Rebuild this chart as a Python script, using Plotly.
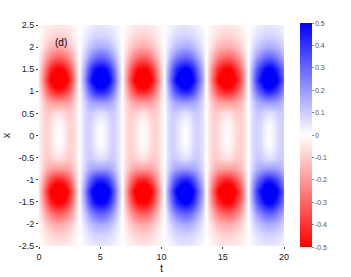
import numpy as np
import plotly.graph_objects as go

# |x| levels (profile is mirrored about x = 0)
x_levels = [0.0, 0.25, 0.5, 0.75, 1.0, 1.25, 1.5, 1.75, 2.0, 2.25, 2.5]
# phase within one column (0 = white gap, 0.5 = column centre), mirrored about 0.5
phase = [0.0, 0.1, 0.2, 0.3, 0.4, 0.5]
# magnitude, rows = x_levels, cols = phase
column_pattern = [
    [0.0, 0.067, 0.092, 0.067, 0.022, 0.000],
    [0.0, 0.064, 0.090, 0.070, 0.030, 0.010],
    [0.0, 0.067, 0.102, 0.095, 0.069, 0.055],
    [0.0, 0.084, 0.148, 0.184, 0.197, 0.200],
    [0.0, 0.139, 0.265, 0.364, 0.428, 0.450],
    [0.0, 0.192, 0.365, 0.502, 0.590, 0.620],
    [0.0, 0.161, 0.306, 0.421, 0.495, 0.520],
    [0.0, 0.099, 0.188, 0.259, 0.304, 0.320],
    [0.0, 0.053, 0.100, 0.138, 0.162, 0.170],
    [0.0, 0.028, 0.053, 0.073, 0.086, 0.090],
    [0.0, 0.015, 0.029, 0.040, 0.048, 0.050],
]
# white gaps between columns (t) and sign of each column (red = negative)
gaps = [-0.14, 3.30, 6.74, 10.18, 13.62, 17.06, 20.50]
column_sign = [-1, 1, -1, 1, -1, 1]

cb_ticks = [0.5, 0.4, 0.3, 0.2, 0.1, 0, -0.1, -0.2, -0.3, -0.4, -0.5]
cb_labels = ["0.5", "0.4", "0.3", "0.2", "0.1", "0", "-0.1", "-0.2", "-0.3", "-0.4", "-0.5"]
x_ticks = [-2.5, -2, -1.5, -1, -0.5, 0, 0.5, 1, 1.5, 2, 2.5]
x_ticklabels = ["-2.5", "-2", "-1.5", "-1", "-0.5", "0", "0.5", "1", "1.5", "2", "2.5"]
t_ticks = [0, 5, 10, 15, 20]

# assemble grid
pat = np.array(column_pattern)
full_pat = np.hstack([pat, pat[:, -2::-1]])          # phase 0..1
full_phase = phase + [1 - p for p in phase[-2::-1]]
full_pat = np.vstack([full_pat[:0:-1], full_pat])     # x from -2.5 to 2.5
xs = [-v for v in x_levels[:0:-1]] + x_levels

ts, cols = [], []
for k, s in enumerate(column_sign):
    a, b = gaps[k], gaps[k + 1]
    for j, p in enumerate(full_phase):
        if k > 0 and j == 0:
            continue
        ts.append(a + p * (b - a))
        cols.append(s * full_pat[:, j])
z = np.array(cols).T

font = "Liberation Sans, Arial, sans-serif"
fig = go.Figure(go.Heatmap(
    x=ts, y=xs, z=z, zmin=-0.5, zmax=0.5, zsmooth="best",
    colorscale=[[0, "rgb(255,0,0)"], [0.5, "rgb(255,255,255)"], [1, "rgb(0,0,255)"]],
    colorbar=dict(
        x=1.065, xanchor="left", y=0.502, yanchor="middle",
        thickness=12, lenmode="pixels", len=224, outlinewidth=0,
        xpad=0, ypad=0,
        tickvals=cb_ticks, ticktext=cb_labels, ticks="outside", ticklen=2,
        tickcolor="#888", tickfont=dict(size=7, color="#555", family=font),
    ),
))
fig.add_annotation(x=1.8, y=2.1, text="(d)", showarrow=False,
                   font=dict(size=10, color="black", family=font))
fig.update_layout(
    width=351, height=277,
    margin=dict(l=39, r=67, t=25, b=31, autoexpand=False),
    paper_bgcolor="white", plot_bgcolor="white",
    font=dict(family=font, size=9, color="#222"),
)
fig.update_xaxes(range=[0, 20], tickvals=t_ticks, title=dict(text="t", standoff=3),
                 showgrid=False, zeroline=False, ticks="outside", ticklen=2,
                 tickfont=dict(size=9), automargin=False)
fig.update_yaxes(range=[-2.5, 2.5], tickvals=x_ticks, ticktext=x_ticklabels,
                 title=dict(text="x", standoff=8), showgrid=False, zeroline=False,
                 ticks="outside", ticklen=2, tickfont=dict(size=9), automargin=False)
fig.write_html("out.html", config={"displayModeBar": False},
               post_script="document.body.style.margin='0';document.body.style.overflow='hidden';")
